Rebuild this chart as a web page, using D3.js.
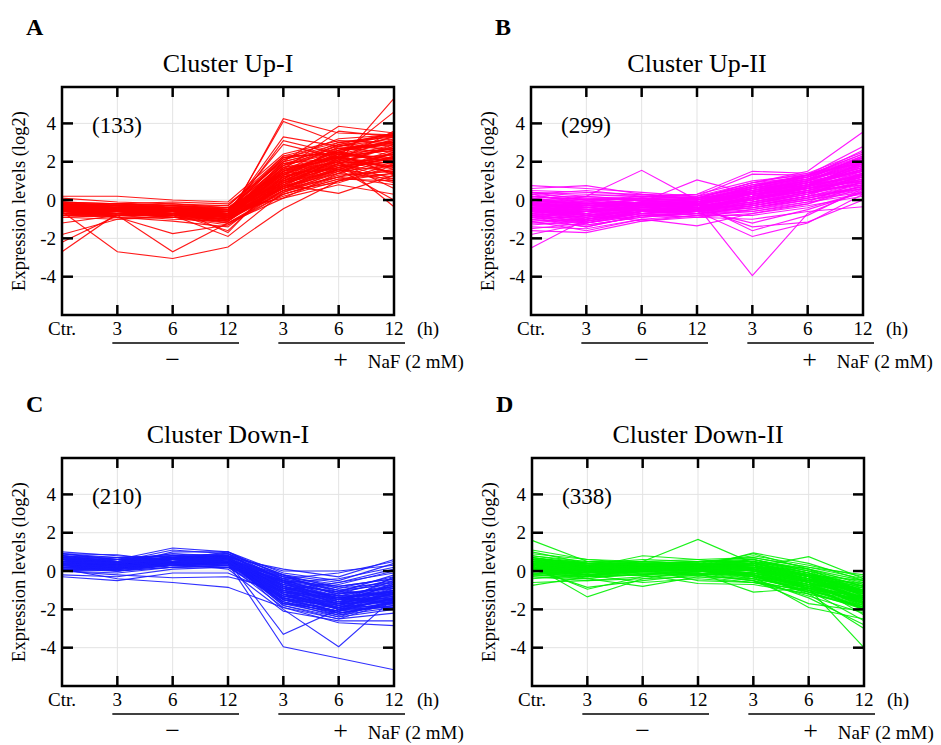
<!DOCTYPE html>
<html lang="en">
<head>
  <meta charset="utf-8">
  <script src="https://cdnjs.cloudflare.com/ajax/libs/d3/7.8.5/d3.min.js"></script>
  <title>NaF expression clusters</title>
</head>
<style>
body {
  margin: 0;
  background: #fff;
}
.grid line {
  stroke: #e3e3e3;
  stroke-width: 1;
}
.profile {
  fill: none;
  stroke-width: 1.15;
  stroke-opacity: 0.9;
}
</style>
<body>
  <div id="chart"></div>
</body>
</html>

<script>
  // time points: control, then 3/6/12 h without NaF, then 3/6/12 h with NaF
  const timeLabels = ["Ctr.", "3", "6", "12", "3", "6", "12"];
  const yTicks = [-4, -2, 0, 2, 4];
  const panelLetters = ["A", "B", "C", "D"];
  const clusterNames = ["Cluster Up-I", "Cluster Up-II", "Cluster Down-I", "Cluster Down-II"];
  const geneCounts = [133, 299, 210, 338];
  const clusterColors = ["#ff0000", "#ff00ff", "#1a1aff", "#00f000"];

  // expression profiles (log2), one row per gene
  const upIProfiles = [
    [-0.3,-0.4,-0.5,-0.6,1.2,2.1,2.4],
    [-0.5,-0.6,-0.7,-0.8,0.9,1.8,2.0],
    [-0.2,-0.3,-0.4,-0.5,1.5,2.4,3.0],
    [-0.6,-0.5,-0.6,-0.9,0.6,1.5,1.8],
    [-0.4,-0.5,-0.5,-0.7,1.8,2.6,2.9],
    [-0.7,-0.7,-0.8,-1.0,0.4,1.3,1.5],
    [-0.1,-0.2,-0.3,-0.3,2.1,2.8,3.2],
    [-0.5,-0.4,-0.4,-0.6,1.0,2.2,2.7],
    [-0.8,-0.9,-0.9,-1.1,0.7,1.6,1.2],
    [-0.3,-0.3,-0.2,-0.4,1.4,2.0,1.8],
    [-0.6,-0.7,-0.6,-0.8,1.1,2.5,3.3],
    [-0.4,-0.6,-0.8,-0.9,0.8,1.9,2.2],
    [0.1,-0.1,-0.2,-0.3,2.3,3.0,3.4],
    [-0.9,-0.8,-0.7,-1.2,0.3,1.1,1.4],
    [-0.2,-0.4,-0.6,-0.7,1.6,2.3,2.6],
    [-0.5,-0.5,-0.3,-0.5,1.3,1.7,1.0],
    [-0.7,-0.6,-0.9,-1.3,0.5,1.4,2.1],
    [-0.3,-0.2,-0.1,-0.2,2.0,2.7,2.5],
    [-0.6,-0.8,-1.0,-1.1,0.9,2.0,0.6],
    [-0.4,-0.3,-0.5,-0.6,1.7,2.9,3.5],
    [-0.2,-0.5,-0.4,-0.4,1.2,1.9,2.8],
    [-0.8,-0.6,-0.7,-0.9,0.6,1.2,0.8],
    [0.2,0.2,0.0,-0.1,2.4,3.1,3.0],
    [-0.5,-0.7,-0.9,-1.0,1.0,2.3,1.6],
    [-0.3,-0.4,-0.3,-0.5,1.9,2.2,3.2],
    [-0.6,-0.4,-0.6,-0.8,0.2,1.0,1.9],
    [-0.1,-0.3,-0.5,-0.6,2.2,2.5,2.0],
    [-0.7,-0.9,-1.1,-1.4,0.8,1.8,2.4],
    [-0.4,-0.5,-0.7,-1.6,1.1,2.4,1.3],
    [-0.5,-0.3,-0.4,-1.7,1.3,2.6,3.1],
    [-0.9,-1.0,-0.8,-1.9,0.4,1.5,2.3],
    [-1.2,-0.8,-0.7,-1.0,0.6,1.6,0.9],
    [-1.8,-1.0,-0.9,-1.2,0.5,1.2,1.6],
    [-2.2,-0.8,-0.6,-0.9,0.7,1.7,2.2],
    [-2.7,-0.7,-0.8,-1.1,0.9,2.1,1.4],
    [-0.6,-2.7,-3.05,-2.45,-0.45,1.0,1.4],
    [-0.5,-0.8,-2.7,-1.2,0.1,0.8,0.3],
    [-0.4,-0.9,-1.75,-1.3,0.3,1.1,1.0],
    [-0.3,-0.6,-0.7,-1.0,4.25,3.5,3.4],
    [-0.5,-0.7,-0.8,-0.9,4.1,3.0,2.6],
    [-0.4,-0.5,-0.6,-0.7,3.3,2.8,3.5],
    [-0.6,-0.6,-0.7,-0.8,3.1,2.4,2.0],
    [-0.2,-0.4,-0.5,-0.6,2.9,2.2,1.7],
    [-0.5,-0.6,-0.7,-0.8,2.0,3.85,3.5],
    [-0.4,-0.5,-0.6,-0.7,1.6,3.6,3.3],
    [-0.3,-0.4,-0.6,-0.7,1.2,2.0,5.3],
    [-0.6,-0.5,-0.7,-0.9,1.4,2.3,4.6],
    [-0.5,-0.6,-0.6,-0.8,1.5,2.0,-0.35],
    [-0.7,-0.8,-0.8,-1.0,0.9,1.6,0.0],
    [-0.4,-0.5,-0.5,-0.6,0.8,0.35,1.3],
    [-0.2,-0.3,-0.4,-0.5,0.1,1.4,2.5],
    [-0.6,-0.7,-0.6,-0.7,1.7,2.1,3.6],
    [-0.3,-0.5,-0.4,-0.5,2.1,3.2,3.4],
    [-0.8,-0.7,-0.9,-1.0,0.5,0.9,1.8],
    [-0.5,-0.4,-0.5,-0.7,1.3,2.7,2.9],
    [-0.4,-0.6,-0.7,-0.9,1.0,1.9,1.1],
    [-0.1,-0.2,-0.3,-0.4,1.8,2.5,3.1],
    [-0.6,-0.8,-0.7,-0.8,0.7,2.2,2.7],
    [-0.3,-0.3,-0.5,-0.6,1.5,2.9,2.3],
    [-0.5,-0.5,-0.6,-1.1,1.2,1.7,2.6],
    [-0.4,-0.4,-0.5,-0.7,0.6,1.7,2.0],
    [-0.3,-0.5,-0.6,-0.8,1.0,2.4,2.2],
    [-0.6,-0.6,-0.5,-0.6,1.5,2.2,2.9],
    [-0.2,-0.3,-0.3,-0.4,0.9,1.5,2.3],
    [-0.5,-0.6,-0.8,-0.9,1.9,2.6,3.3],
    [-0.7,-0.5,-0.6,-0.7,1.1,1.8,1.5],
    [-0.4,-0.4,-0.4,-0.5,2.2,2.9,2.6],
    [-0.5,-0.7,-0.7,-0.9,0.5,1.6,2.5],
    [-0.3,-0.2,-0.4,-0.6,1.4,2.6,3.0],
    [-0.6,-0.5,-0.8,-1.0,0.8,2.1,1.7],
    [-0.1,-0.4,-0.5,-0.5,1.6,2.2,1.9],
    [-0.8,-0.8,-0.7,-0.8,1.2,2.0,2.8],
    [-0.4,-0.6,-0.5,-0.6,1.8,3.0,3.3],
    [-0.5,-0.4,-0.6,-0.9,0.7,1.4,1.1],
    [-0.2,-0.3,-0.4,-0.6,1.3,2.4,2.0],
    [-0.6,-0.7,-0.6,-0.7,2.0,2.7,3.0],
    [-0.3,-0.5,-0.5,-0.7,1.0,1.7,2.4],
    [-0.7,-0.6,-0.7,-1.0,1.5,2.5,2.1],
    [-0.4,-0.3,-0.4,-0.5,2.3,2.4,2.7],
    [-0.5,-0.6,-0.7,-0.8,0.3,1.2,2.0],
    [-0.3,-0.4,-0.6,-0.8,1.7,2.3,1.4],
    [-0.6,-0.5,-0.5,-0.6,1.1,2.8,3.4],
    [-0.2,-0.2,-0.3,-0.5,0.6,1.9,2.9],
    [-0.5,-0.5,-0.4,-0.7,1.4,1.6,2.2]
  ];

  const upIIProfiles = [
    [-0.2,-0.3,-0.1,-0.2,0.3,0.8,1.5],
    [-0.5,-0.7,-0.4,-0.3,0.1,0.6,1.2],
    [0.2,0.0,0.1,0.0,0.6,1.1,1.9],
    [-0.8,-1.0,-0.6,-0.5,-0.2,0.3,0.9],
    [-0.4,-0.5,-0.2,-0.1,0.4,0.9,1.7],
    [0.4,0.3,0.2,0.1,0.8,1.2,2.2],
    [-1.0,-1.2,-0.8,-0.6,-0.4,0.1,0.6],
    [-0.3,-0.2,0.0,-0.2,0.2,0.7,1.3],
    [-0.6,-0.8,-0.5,-0.4,0.0,0.5,1.0],
    [0.0,-0.1,0.2,0.1,0.5,1.0,2.0],
    [-0.7,-0.6,-0.3,-0.4,-0.1,0.4,0.8],
    [-0.1,-0.4,-0.1,0.0,0.7,1.3,2.4],
    [-1.2,-1.3,-0.9,-0.7,-0.5,0.0,0.4],
    [0.5,0.4,0.3,0.2,0.9,1.4,2.5],
    [-0.5,-0.3,-0.2,-0.3,0.3,0.6,1.1],
    [-0.9,-1.1,-0.7,-0.6,-0.3,0.2,0.7],
    [0.1,0.2,0.0,-0.1,0.4,0.8,1.6],
    [-0.4,-0.6,-0.4,-0.5,0.1,0.5,1.4],
    [-0.2,-0.1,0.1,0.0,0.6,1.2,2.1],
    [-0.6,-0.9,-0.6,-0.3,0.0,0.7,1.8],
    [-1.4,-1.5,-1.0,-0.8,-0.6,-0.1,0.3],
    [-1.6,-1.7,-1.1,-0.9,-0.7,-0.3,0.2],
    [-1.8,-1.2,-0.8,-0.7,-0.4,0.0,0.5],
    [-2.5,-1.0,-0.6,-0.5,-0.2,0.4,0.9],
    [0.75,0.6,0.4,0.2,0.7,1.1,1.8],
    [0.6,0.75,0.3,0.1,0.5,0.9,1.5],
    [0.3,0.5,0.2,0.3,1.0,1.3,2.3],
    [-0.3,0.2,1.55,0.0,0.4,0.8,1.3],
    [-0.5,-0.3,-0.1,1.05,0.3,0.6,1.0],
    [-0.4,-0.5,-0.3,-0.3,-3.95,-0.7,0.5],
    [-0.6,-0.7,-0.5,-0.6,-1.9,-1.2,0.3],
    [-0.3,-0.4,-0.2,-0.2,-1.6,-0.8,0.6],
    [-0.5,-0.8,-0.6,-0.4,-1.4,-1.15,0.0],
    [-0.2,-0.3,-0.4,-0.5,-1.2,-0.5,0.4],
    [-0.7,-0.9,-0.7,-0.9,-1.0,-0.6,-0.35],
    [0.0,0.1,0.2,0.3,1.5,1.4,1.9],
    [0.2,0.0,0.1,0.2,1.35,1.3,2.0],
    [-0.1,-0.2,0.0,0.1,0.9,1.5,3.55],
    [-0.3,-0.4,-0.2,-0.1,0.7,1.3,2.8],
    [-0.2,-0.1,-0.3,-0.2,0.6,1.2,2.6],
    [-0.8,-1.3,-0.9,-0.6,-0.2,0.3,1.2],
    [-1.1,-1.6,-1.0,-1.35,-0.7,-0.2,0.8],
    [-0.9,-1.4,-0.8,-0.9,-0.5,-0.1,1.0],
    [-0.4,-0.7,-1.1,-0.8,-0.3,0.2,1.4],
    [-0.6,-0.5,-0.9,-0.7,-0.4,0.1,0.7],
    [-0.1,0.0,-0.2,-0.4,0.2,0.9,1.6],
    [0.3,0.1,0.0,-0.2,0.3,0.8,1.2],
    [-0.5,-0.6,-0.3,-0.2,0.5,1.0,2.2],
    [-1.0,-0.8,-0.5,-0.4,0.0,0.6,1.5],
    [-0.7,-1.0,-0.4,-0.5,0.2,0.4,0.9],
    [0.1,-0.2,-0.1,0.0,0.8,1.1,1.7],
    [-0.3,-0.6,-0.5,-0.3,-0.1,0.5,1.1],
    [-0.8,-0.7,-0.2,-0.6,0.1,0.7,2.0],
    [-0.2,-0.5,-0.3,-0.6,0.4,1.0,1.9],
    [-1.3,-1.1,-0.7,-0.5,-0.2,0.3,1.3],
    [0.4,0.2,0.3,0.0,0.6,0.9,1.4],
    [-0.6,-0.4,-0.1,-0.1,0.5,1.1,2.3],
    [-0.4,-0.2,-0.3,-0.7,-0.6,-0.2,0.6],
    [-0.9,-0.6,-0.5,-0.8,-0.8,-0.4,0.4],
    [0.0,-0.3,0.1,-0.1,0.3,0.6,1.0],
    [-0.5,-1.0,-0.7,-0.4,0.1,0.8,1.6],
    [-0.2,-0.8,-0.6,-0.3,0.6,1.2,2.1],
    [-1.5,-1.2,-0.6,-0.6,-0.3,0.2,0.9],
    [-0.7,-0.3,-0.2,-0.4,0.4,0.9,1.7],
    [0.2,-0.1,-0.2,-0.3,0.0,0.5,1.2],
    [-0.4,-0.8,-0.5,-0.4,0.2,0.7,1.3],
    [0.0,-0.4,-0.2,-0.2,0.5,1.0,1.8],
    [-0.6,-1.1,-0.6,-0.5,-0.1,0.4,1.1],
    [-0.2,-0.6,-0.3,-0.1,0.3,0.9,1.5],
    [-0.9,-0.9,-0.5,-0.4,0.1,0.5,0.8],
    [0.3,-0.2,0.0,0.0,0.7,1.2,2.2],
    [-0.7,-1.2,-0.7,-0.6,-0.2,0.2,0.6],
    [-0.1,-0.5,-0.4,-0.3,0.4,0.8,1.9],
    [-0.5,-0.9,-0.5,-0.5,0.0,0.6,1.4],
    [0.1,-0.3,-0.1,-0.1,0.6,1.1,2.0],
    [-1.1,-1.0,-0.6,-0.5,-0.3,0.1,0.7],
    [-0.3,-0.7,-0.2,-0.2,0.2,0.7,1.6],
    [-0.8,-0.6,-0.4,-0.3,0.0,0.5,1.2],
    [0.0,-0.2,0.0,0.1,0.8,1.3,2.4],
    [-0.6,-0.8,-0.3,-0.4,0.3,0.9,1.7],
    [-0.4,-1.0,-0.6,-0.6,-0.1,0.3,1.0],
    [-0.2,-0.4,-0.1,-0.3,0.5,1.0,2.1],
    [-1.0,-1.4,-0.8,-0.7,-0.3,0.2,0.8],
    [-0.5,-0.5,-0.2,-0.2,0.4,1.1,2.3],
    [0.2,0.0,0.1,-0.1,0.6,1.0,1.5],
    [-0.7,-0.9,-0.5,-0.5,0.1,0.6,1.3],
    [-0.3,-0.3,-0.3,-0.4,0.2,0.8,1.8],
    [-0.9,-1.2,-0.7,-0.5,-0.1,0.4,1.1],
    [0.4,0.0,0.2,0.1,0.9,1.2,2.0],
    [-0.6,-0.6,-0.4,-0.2,0.3,0.7,1.4],
    [-0.1,-0.5,-0.5,-0.5,0.1,0.6,1.2],
    [-0.8,-1.1,-0.6,-0.4,0.0,0.8,1.9],
    [-0.4,-0.4,-0.1,-0.1,0.7,1.3,2.2],
    [-1.2,-1.0,-0.7,-0.6,-0.4,0.0,0.6],
    [0.0,-0.3,-0.2,-0.2,0.4,0.9,1.6]
  ];

  const downIProfiles = [
    [0.5,0.3,0.4,0.6,-0.8,-1.3,-0.8],
    [0.8,0.6,0.7,0.8,-0.4,-0.9,-0.3],
    [0.2,0.1,0.3,0.4,-1.2,-1.8,-1.2],
    [0.6,0.4,0.5,0.7,-0.9,-1.5,-1.0],
    [0.0,-0.1,0.2,0.3,-1.5,-2.1,-1.6],
    [0.9,0.7,0.8,0.9,-0.2,-0.6,0.1],
    [0.4,0.2,0.3,0.5,-1.0,-1.6,-1.4],
    [0.3,0.3,0.5,0.6,-0.7,-1.1,-0.6],
    [0.7,0.5,0.6,0.7,-1.3,-2.0,-1.7],
    [0.1,0.0,0.2,0.2,-0.6,-1.2,-0.9],
    [0.5,0.4,0.6,0.8,-1.7,-2.3,-1.9],
    [0.6,0.3,0.4,0.5,-0.5,-0.8,-0.4],
    [0.2,0.2,0.4,0.5,-1.1,-1.4,-1.1],
    [0.8,0.5,0.9,0.8,-0.3,-1.0,-0.7],
    [0.4,0.1,0.5,0.4,-1.4,-1.9,-1.3],
    [0.3,0.4,0.3,0.6,-0.9,-1.7,-1.5],
    [1.0,0.8,0.6,1.0,-0.1,-0.5,0.4],
    [0.9,0.85,0.5,0.9,-0.6,-1.1,-0.2],
    [-0.2,-0.3,0.1,0.2,-1.6,-2.2,-1.8],
    [-0.3,-0.5,-0.1,-0.1,-1.3,-1.7,-1.0],
    [0.1,-0.4,-0.6,-0.85,-1.9,-2.5,-1.6],
    [0.0,-0.2,-0.35,-0.3,-1.0,-1.5,-0.5],
    [0.5,0.6,1.2,1.0,-0.5,-1.2,-0.8],
    [0.6,0.5,1.1,0.9,-0.8,-1.4,-1.2],
    [0.4,0.3,1.0,1.0,-0.3,-0.7,0.0],
    [0.7,0.6,0.9,0.7,0.1,-0.3,0.6],
    [0.3,0.2,0.7,0.8,0.0,0.0,0.3],
    [0.2,0.1,0.6,0.6,-0.4,-0.1,0.5],
    [0.5,0.3,0.8,0.5,-3.3,-2.0,-1.5],
    [0.4,0.2,0.5,0.4,-3.95,-4.55,-5.15],
    [0.6,0.4,0.7,0.6,-2.0,-3.95,-1.4],
    [0.3,0.1,0.4,0.1,-2.1,-2.6,-2.6],
    [0.2,0.3,0.5,0.3,-1.9,-2.7,-2.85],
    [0.7,0.5,0.6,0.6,-1.8,-2.5,-2.2],
    [0.1,0.0,0.3,0.4,-1.6,-2.4,-2.0],
    [0.5,0.5,0.4,0.5,-1.2,-2.2,-1.8],
    [0.8,0.7,0.8,0.7,-0.7,-1.3,-1.1],
    [0.4,0.4,0.6,0.7,-1.0,-1.9,-1.6],
    [0.6,0.2,0.5,0.4,-0.5,-1.0,-1.3],
    [0.0,0.1,0.4,0.5,-0.8,-1.6,-0.7],
    [0.3,0.0,0.2,0.3,-1.3,-1.2,-0.4],
    [0.9,0.6,0.7,0.6,-1.1,-2.0,-1.0],
    [0.2,0.4,0.7,0.9,-0.2,-0.9,-0.6],
    [0.5,0.2,0.3,0.2,-1.4,-2.1,-1.4],
    [0.7,0.4,0.4,0.6,-0.6,-1.8,-1.9],
    [0.1,0.2,0.5,0.6,-1.5,-1.8,-0.9],
    [0.4,0.3,0.2,0.3,-0.9,-1.3,-1.7],
    [0.6,0.6,0.6,0.8,-0.4,-1.5,-1.3],
    [0.3,0.2,0.6,0.5,-1.7,-2.1,-1.1],
    [0.8,0.4,0.5,0.7,-1.0,-0.6,-0.1],
    [0.2,0.0,0.3,0.2,-0.7,-1.4,-1.5],
    [0.5,0.5,0.7,0.6,-1.2,-1.7,-0.3],
    [0.0,0.2,0.4,0.4,-0.3,-1.1,-1.2],
    [0.6,0.3,0.6,0.7,-1.5,-2.3,-1.6],
    [0.4,0.1,0.3,0.5,-0.6,-0.4,0.2],
    [0.5,0.3,0.5,0.6,-1.1,-1.7,-1.2],
    [0.3,0.2,0.4,0.5,-0.9,-1.5,-0.9],
    [0.7,0.4,0.6,0.7,-1.4,-1.9,-1.5],
    [0.4,0.3,0.5,0.5,-0.6,-1.3,-0.7],
    [0.6,0.4,0.5,0.6,-1.6,-2.2,-1.7],
    [0.2,0.1,0.3,0.4,-0.8,-1.6,-1.2],
    [0.5,0.4,0.6,0.7,-1.2,-2.0,-1.4],
    [0.8,0.5,0.7,0.8,-0.5,-1.2,-0.9],
    [0.3,0.2,0.4,0.4,-1.3,-1.8,-1.3],
    [0.6,0.3,0.5,0.6,-0.7,-1.4,-1.0],
    [0.4,0.3,0.4,0.6,-1.5,-2.1,-1.8],
    [0.1,0.1,0.3,0.4,-1.0,-1.5,-0.8],
    [0.7,0.5,0.7,0.8,-0.8,-1.7,-1.6],
    [0.5,0.2,0.4,0.5,-1.8,-2.4,-1.5],
    [0.3,0.4,0.6,0.6,-0.4,-1.0,-0.5],
    [0.6,0.5,0.6,0.5,-1.3,-1.9,-1.1],
    [0.2,0.2,0.5,0.5,-0.9,-2.0,-1.9],
    [0.4,0.1,0.4,0.3,-1.1,-1.6,-1.0],
    [0.8,0.6,0.8,0.7,-0.6,-1.5,-1.4],
    [0.5,0.3,0.5,0.7,-1.0,-1.8,-0.6],
    [0.3,0.3,0.3,0.4,-1.4,-2.2,-1.6],
    [0.6,0.4,0.7,0.6,-0.3,-0.8,-0.4],
    [0.4,0.2,0.5,0.6,-1.7,-1.9,-1.2],
    [0.7,0.5,0.5,0.5,-0.9,-1.4,-1.7],
    [0.2,0.0,0.4,0.5,-1.2,-1.9,-1.0],
    [0.5,0.4,0.6,0.6,-0.2,-1.3,-1.2],
    [0.9,0.6,0.8,0.8,-1.5,-2.1,-1.4],
    [0.3,0.1,0.3,0.3,-0.5,-1.6,-1.5]
  ];

  const downIIProfiles = [
    [0.3,0.1,0.2,0.2,0.1,-0.5,-1.2],
    [0.6,0.3,0.4,0.5,0.5,-0.1,-0.8],
    [0.0,-0.2,0.0,0.0,-0.2,-0.8,-1.6],
    [0.4,0.2,0.3,0.4,0.3,-0.3,-1.0],
    [-0.2,-0.4,-0.1,-0.1,-0.4,-1.0,-1.9],
    [0.8,0.5,0.5,0.6,0.7,0.2,-0.4],
    [0.2,0.0,0.1,0.1,0.0,-0.6,-1.4],
    [0.5,0.4,0.2,0.3,0.4,-0.2,-1.1],
    [0.1,-0.1,0.3,0.2,-0.1,-0.7,-1.7],
    [-0.1,-0.3,-0.2,0.0,-0.3,-0.9,-1.3],
    [0.7,0.4,0.4,0.5,0.6,0.0,-0.6],
    [0.3,0.2,0.0,0.1,0.2,-0.4,-1.5],
    [0.2,0.3,0.2,0.3,0.1,-0.5,-0.9],
    [-0.3,-0.5,-0.3,-0.2,-0.5,-1.1,-2.0],
    [0.4,0.0,0.1,0.2,0.3,-0.3,-1.3],
    [0.5,0.2,0.4,0.4,0.0,-0.2,-0.7],
    [0.1,0.1,0.0,-0.1,-0.2,-0.7,-1.8],
    [0.6,0.4,0.3,0.2,0.4,-0.1,-1.0],
    [0.0,-0.1,0.2,0.3,0.2,-0.4,-1.1],
    [0.9,0.6,0.5,0.4,0.8,0.3,-0.3],
    [1.6,0.5,0.3,0.4,0.5,0.0,-0.8],
    [1.1,0.6,0.4,0.3,0.6,0.1,-0.5],
    [1.0,0.4,0.6,0.5,0.7,0.2,-0.2],
    [-0.75,-0.3,-0.2,-0.1,-0.3,-0.8,-1.4],
    [-0.6,-0.5,-0.4,-0.3,-0.6,-1.2,-1.9],
    [0.3,-1.35,-0.4,0.0,-0.2,-0.9,-1.6],
    [0.2,-0.95,-0.3,-0.1,-0.5,-1.3,-2.2],
    [0.1,-0.85,-0.5,-0.2,-0.1,-0.6,-1.2],
    [0.5,0.2,0.8,0.6,0.3,-0.2,-1.0],
    [0.0,-0.4,-0.8,-0.3,-0.4,-0.9,-1.5],
    [0.2,-0.2,-0.6,-0.4,-0.6,-1.0,-1.7],
    [0.4,0.1,0.5,1.65,0.4,-0.1,-0.9],
    [-0.2,-0.3,-0.2,-0.65,-0.7,-1.2,-1.8],
    [0.1,0.0,0.1,-0.5,-0.6,-1.0,-1.3],
    [0.3,0.2,0.3,0.2,0.95,0.4,-0.5],
    [0.6,0.5,0.4,0.3,0.9,0.1,-0.7],
    [0.0,-0.2,0.0,-0.1,-1.1,-0.9,-1.5],
    [0.4,0.3,0.2,0.4,0.2,0.75,-0.4],
    [0.2,0.1,0.2,0.0,-0.3,-1.9,-2.5],
    [0.1,0.0,-0.1,-0.2,-0.5,-1.7,-2.1],
    [0.5,0.3,0.1,0.2,0.0,-0.9,-4.0],
    [0.3,0.0,0.2,0.1,-0.2,-1.2,-3.0],
    [-0.1,-0.3,0.1,0.0,-0.4,-1.4,-2.8],
    [0.2,0.2,0.3,0.1,0.1,-1.0,-2.6],
    [0.6,0.2,0.2,0.4,0.3,-0.6,-2.3],
    [-0.4,-0.2,0.1,0.3,0.1,-0.3,-1.0],
    [0.3,0.4,0.4,0.5,0.6,0.0,-1.2],
    [0.7,0.3,0.0,0.1,0.2,-0.4,-1.6],
    [-0.2,0.0,0.3,0.4,0.0,-0.5,-0.6],
    [0.5,0.1,-0.1,-0.2,-0.1,-0.8,-1.4],
    [0.0,0.2,0.4,0.2,0.4,-0.2,-0.5],
    [0.4,-0.1,0.1,0.3,0.5,-0.6,-1.9],
    [0.2,0.3,0.5,0.4,-0.3,-0.7,-1.0],
    [0.8,0.4,0.2,0.0,0.3,-0.3,-1.7],
    [-0.3,-0.4,0.0,0.2,-0.2,-1.1,-1.5],
    [0.1,0.1,0.2,0.5,0.5,0.1,-1.1],
    [0.6,0.0,0.3,0.3,-0.4,-0.9,-2.0],
    [0.3,-0.2,-0.2,0.1,0.1,-0.4,-0.8],
    [0.3,0.0,0.2,0.3,0.2,-0.5,-1.4],
    [0.5,0.2,0.3,0.3,0.3,-0.3,-1.1],
    [0.1,-0.1,0.1,0.1,-0.1,-0.6,-1.5],
    [0.4,0.1,0.2,0.2,0.1,-0.7,-1.8],
    [0.2,0.0,0.0,0.2,0.0,-0.4,-1.2],
    [0.6,0.3,0.3,0.4,0.4,-0.2,-1.3],
    [0.0,-0.2,0.1,0.0,-0.2,-0.8,-1.7],
    [0.3,0.1,0.2,0.1,0.2,-0.5,-1.0],
    [0.5,0.3,0.4,0.3,0.5,-0.1,-1.2],
    [0.2,-0.1,0.0,0.1,-0.1,-0.9,-1.9],
    [0.4,0.2,0.1,0.3,0.3,-0.4,-1.6],
    [0.1,0.0,0.2,0.2,0.1,-0.6,-1.3],
    [0.7,0.3,0.3,0.3,0.5,-0.3,-1.5],
    [0.3,0.1,0.3,0.4,0.0,-0.5,-1.1],
    [-0.1,-0.2,0.0,0.1,-0.3,-1.0,-1.8],
    [0.4,0.0,0.1,0.2,0.2,-0.4,-1.4],
    [0.2,0.2,0.2,0.3,0.3,-0.2,-0.9],
    [0.6,0.2,0.4,0.4,0.1,-0.6,-1.7],
    [0.0,-0.1,0.1,0.0,-0.1,-0.7,-1.2],
    [0.3,0.2,0.0,0.1,0.4,-0.3,-1.0],
    [0.5,0.1,0.2,0.2,0.0,-0.8,-2.0],
    [0.2,0.0,0.3,0.3,0.2,-0.2,-1.3],
    [0.4,0.3,0.2,0.1,-0.2,-0.9,-1.6],
    [0.1,-0.2,-0.1,0.0,0.1,-0.5,-1.4],
    [0.6,0.4,0.3,0.3,0.6,-0.1,-0.8],
    [0.3,0.0,0.1,0.2,-0.3,-1.1,-1.9],
    [0.2,0.1,0.2,0.1,0.3,-0.4,-1.2],
    [0.5,0.2,0.1,0.3,0.1,-0.6,-1.1],
    [0.0,-0.3,0.0,0.2,0.0,-0.7,-1.5],
    [0.4,0.1,0.3,0.2,0.2,-0.2,-1.7]
  ];

  const clusterProfiles = [upIProfiles, upIIProfiles, downIProfiles, downIIProfiles];

  // layout of the four plot boxes
  const width = 941, height = 745;
  const serif = "'Liberation Serif', 'Times New Roman', Times, serif";
  const boxes = [
    {left: 62, top: 87, letterY: 35},
    {left: 531, top: 87, letterY: 35},
    {left: 62, top: 458, letterY: 412},
    {left: 532, top: 458, letterY: 412}
  ];
  const boxW = 332, boxH = 228;

  const svg = d3.select("#chart").append("svg")
    .attr("width", width).attr("height", height)
    .style("font-family", serif);

  function label(parent, size){
    return parent.append("text")
      .style("font-family", serif)
      .style("font-size", size + "px")
      .attr("fill", "#000");
  }

  boxes.forEach(function(b, i){
    const g = svg.append("g").attr("transform", "translate(" + b.left + "," + b.top + ")");

    const x = d3.scalePoint().domain(d3.range(timeLabels.length)).range([0, boxW]);
    const y = d3.scaleLinear().domain([-6, 5.9]).range([boxH, 0]);

    // panel letter + title
    label(svg, 24)
      .attr("x", b.left - 36).attr("y", b.letterY)
      .style("font-weight", "bold")
      .text(panelLetters[i]);
    label(svg, 26)
      .attr("x", b.left + boxW / 2).attr("y", b.top - 15)
      .attr("text-anchor", "middle")
      .text(clusterNames[i]);

    // light grid
    const grid = g.append("g").attr("class", "grid");
    grid.selectAll(".gy").data(yTicks).enter().append("line")
      .attr("x1", 0).attr("x2", boxW)
      .attr("y1", function(d){return y(d);}).attr("y2", function(d){return y(d);});
    grid.selectAll(".gx").data(d3.range(1, timeLabels.length - 1)).enter().append("line")
      .attr("y1", 0).attr("y2", boxH)
      .attr("x1", function(d){return x(d);}).attr("x2", function(d){return x(d);});

    // gene profiles
    const line = d3.line()
      .x(function(d, k){return x(k);})
      .y(function(d){return y(d);});
    g.append("g").selectAll("path")
      .data(clusterProfiles[i])
      .enter()
      .append("path")
      .attr("class", "profile")
      .attr("stroke", clusterColors[i])
      .attr("d", line);

    // frame with inward ticks
    g.append("rect")
      .attr("width", boxW).attr("height", boxH)
      .attr("fill", "none").attr("stroke", "#000").attr("stroke-width", 2.5);

    const ticks = g.append("g").attr("stroke", "#000").attr("stroke-width", 2.5);
    yTicks.forEach(function(t){
      ticks.append("line").attr("x1", 0).attr("x2", 11).attr("y1", y(t)).attr("y2", y(t));
      ticks.append("line").attr("x1", boxW - 11).attr("x2", boxW).attr("y1", y(t)).attr("y2", y(t));
    });
    d3.range(1, timeLabels.length - 1).forEach(function(k){
      ticks.append("line").attr("x1", x(k)).attr("x2", x(k)).attr("y1", 0).attr("y2", 10);
      ticks.append("line").attr("x1", x(k)).attr("x2", x(k)).attr("y1", boxH - 10).attr("y2", boxH);
    });

    // y tick labels
    yTicks.forEach(function(t){
      label(g, 19)
        .attr("x", -6).attr("y", y(t))
        .attr("dy", "0.35em")
        .attr("text-anchor", "end")
        .text(t);
    });

    label(g, 18.5)
      .attr("transform", "translate(-43," + (boxH / 2) + ") rotate(-90)")
      .attr("text-anchor", "middle")
      .attr("dy", "0.35em")
      .text("Expression levels (log2)");

    // gene count
    label(g, 23)
      .attr("x", 30).attr("y", y(4) + 10)
      .text("(" + geneCounts[i] + ")");

    // x tick labels
    timeLabels.forEach(function(t, k){
      label(g, 19)
        .attr("x", x(k)).attr("y", boxH + 20)
        .attr("text-anchor", "middle")
        .text(t);
    });
    label(g, 19)
      .attr("x", boxW + 34).attr("y", boxH + 20)
      .attr("text-anchor", "middle")
      .text("(h)");

    // treatment brackets
    [[1, 3], [4, 6]].forEach(function(r){
      g.append("line")
        .attr("x1", x(r[0]) - 5).attr("x2", x(r[1]) + 11)
        .attr("y1", boxH + 28).attr("y2", boxH + 28)
        .attr("stroke", "#000").attr("stroke-width", 1.3);
    });
    label(g, 26)
      .attr("x", x(2)).attr("y", boxH + 53)
      .attr("text-anchor", "middle")
      .text("\u2212");
    label(g, 26)
      .attr("x", x(5) + 2).attr("y", boxH + 53)
      .attr("text-anchor", "middle")
      .text("+");
    label(g, 19)
      .attr("x", x(5) + 29).attr("y", boxH + 53)
      .text("NaF (2 mM)");
  });
</script>
